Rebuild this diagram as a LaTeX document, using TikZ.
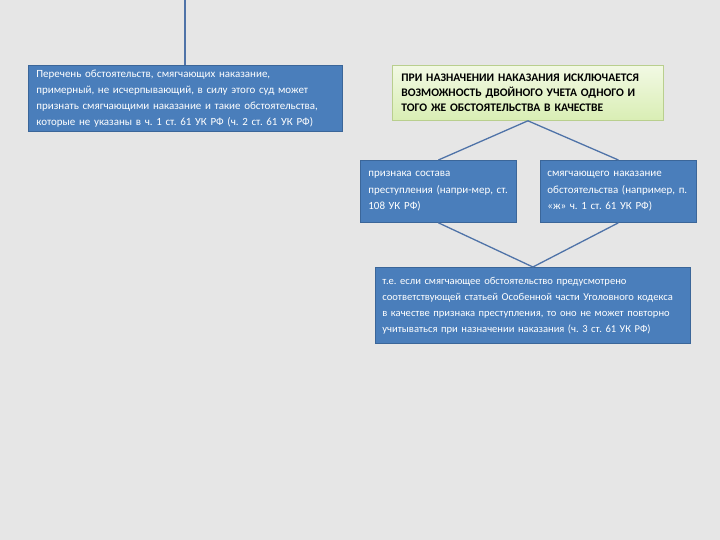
\documentclass[tikz,border=0pt]{standalone}
\usepackage{fontspec}
\setmainfont{Carlito}
\frenchspacing
\definecolor{bg}{HTML}{E6E6E6}
\definecolor{boxblue}{HTML}{4A7EBB}
\definecolor{boxedge}{HTML}{3B6699}
\definecolor{linkblue}{HTML}{4F73A8}
\definecolor{greentop}{HTML}{F2F9E4}
\definecolor{greenbot}{HTML}{D9EEB4}
\definecolor{greenedge}{HTML}{B9CF8E}
\tikzset{
  bluebox/.style={draw=boxedge, line width=0.8bp, fill=boxblue, text=white, anchor=north west,
    align=left, inner xsep=8bp, inner ysep=0bp, font=\fontsize{11}{16}\selectfont},
  greenbox/.style={draw=greenedge, line width=0.8bp, top color=greentop, bottom color=greenbot,
    anchor=north west, align=left, inner xsep=9bp, inner ysep=0bp,
    font=\fontsize{11.6}{15}\selectfont\bfseries},
  link/.style={draw=linkblue, line width=1.3bp}
}
\begin{document}
\begin{tikzpicture}[x=1bp,y=-1bp]
\fill[bg] (0,0) rectangle (720,540);
\useasboundingbox (0,0) rectangle (720,540);
\node[bluebox, minimum width=314bp, minimum height=66bp, text width=298bp] (b1) at (28,65)
 {Перечень обстоятельств, смягчающих наказание,\\ примерный, не исчерпывающий, в силу этого суд может\\ признать смягчающими наказание и такие обстоятельства,\\ которые не указаны в ч. 1 ст. 61 УК РФ (ч. 2 ст. 61 УК РФ)};
\node[greenbox, minimum width=271bp, minimum height=55bp, text width=253bp] (b2) at (392,65)
 {ПРИ НАЗНАЧЕНИИ НАКАЗАНИЯ ИСКЛЮЧАЕТСЯ\\ ВОЗМОЖНОСТЬ ДВОЙНОГО УЧЕТА ОДНОГО И\\ ТОГО ЖЕ ОБСТОЯТЕЛЬСТВА В КАЧЕСТВЕ};
\node[bluebox, minimum width=156bp, minimum height=62bp, text width=140bp, font=\fontsize{11}{16.5}\selectfont] (b3) at (360,160)
 {признака состава\\ преступления (напри-мер, ст.\\ 108 УК РФ)};
\node[bluebox, minimum width=156bp, minimum height=62bp, text width=142bp, inner xsep=7bp, font=\fontsize{11}{16.5}\selectfont] (b4) at (540,160)
 {смягчающего наказание\\ обстоятельства (например, п.\\ «ж» ч. 1 ст. 61 УК РФ)};
\node[bluebox, minimum width=315bp, minimum height=76bp, text width=301bp, inner xsep=7bp, font=\fontsize{10.6}{16}\selectfont] (b5) at (375,267)
 {т.е. если смягчающее обстоятельство предусмотрено\\ соответствующей статьей Особенной части Уголовного кодекса\\ в качестве признака преступления, то оно не может повторно\\ учитываться при назначении наказания (ч. 3 ст. 61 УК РФ)};
\coordinate (top) at (185,0);
\draw[link] (top) -- (top |- b1.north);
\draw[link] (b2.south) -- (b3.north);
\draw[link] (b2.south) -- (b4.north);
\draw[link] (b3.south) -- (b5.north);
\draw[link] (b4.south) -- (b5.north);
\end{tikzpicture}
\end{document}
